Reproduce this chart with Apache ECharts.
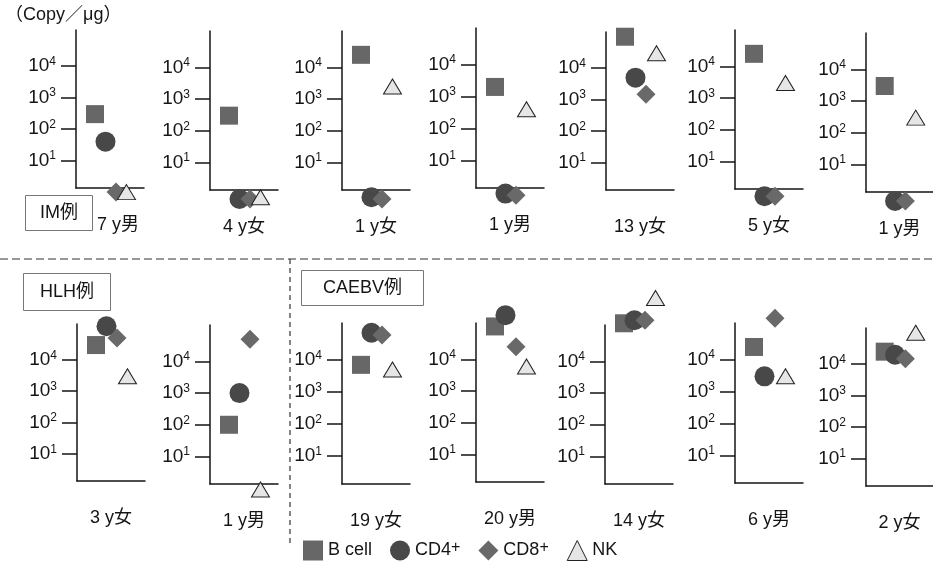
<!DOCTYPE html>
<html>
<head>
<meta charset="utf-8">
<script src="https://cdn.jsdelivr.net/npm/echarts@6/dist/echarts.min.js"></script>
<style>
html,body{margin:0;padding:0;background:#fff;}
#chart{width:933px;height:566px;}
</style>
</head>
<body>
<div id="chart"></div>
<script>
// ---- data (copies / µg) ----
const cases = ['7 y男','4 y女','1 y女','1 y男','13 y女','5 y女','1 y男',
               '3 y女','1 y男','19 y女','20 y男','14 y女','6 y男','2 y女'];
const cellTypes = ['B cell','CD4+','CD8+','NK'];
const bCell = [300, 300, 25000, 2000, 100000, 25000, 3000, 30000, 100, 7000, 110000, 160000, 25000, 25000];
const cd4   = [40, 0.7, 0.8, 0.9, 5000, 0.8, 0.7, 120000, 1000, 70000, 250000, 200000, 3000, 20000];
const cd8   = [1, 0.7, 0.7, 0.8, 1500, 0.8, 0.7, 50000, 50000, 60000, 25000, 200000, 200000, 15000];
const nk    = [1, 0.8, 2500, 400, 30000, 3000, 300, 3000, 0.9, 5000, 6000, 1000000, 3000, 100000];
const tickExponents = [1, 2, 3, 4];
const groupLabels = ['IM例', 'HLH例', 'CAEBV例'];
const unitLabel = '（Copy／μg）';

// ---- layout ----
const gridLeft   = [76, 210, 342, 476, 606, 735, 866, 77, 210, 342, 476, 605, 735, 866];
const gridTop    = [30, 31, 31, 28, 32, 30, 33, 324, 325, 323, 323, 325, 323, 328];
const gridBottom = [188, 190, 190, 188, 190, 189, 192, 481, 484, 484, 482, 484, 483, 486];
const yMin = 0.13, yMax = 5.15;
const FONT = '"Liberation Sans", "Noto Sans CJK JP", sans-serif';
const INK = '#151515';

const values = [bCell, cd4, cd8, nk];
const styles = [
  {symbol: 'rect',     size: 18,       itemStyle: {color: '#676767', opacity: 1}},
  {symbol: 'circle',   size: 20,       itemStyle: {color: '#484848', opacity: 1}},
  {symbol: 'diamond',  size: [19, 19], itemStyle: {color: '#696969', opacity: 1}},
  {symbol: 'triangle', size: [18, 15], itemStyle: {color: '#e6e6e6', borderColor: '#222', borderWidth: 1, opacity: 1}}
];

const grids = [], xAxes = [], yAxes = [], series = [];
cases.forEach((label, p) => {
  grids.push({left: gridLeft[p], top: gridTop[p], width: 68, height: gridBottom[p] - gridTop[p]});
  xAxes.push({
    gridIndex: p, type: 'value', min: -1.81, max: 4.67,
    axisLine: {onZero: false, lineStyle: {color: INK, width: 1.5}},
    axisTick: {show: false}, axisLabel: {show: false}, splitLine: {show: false},
    name: label, nameLocation: 'middle', nameGap: 28,
    nameTextStyle: {fontFamily: FONT, fontSize: 18, color: INK,
                    padding: p === 0 ? [0, 0, 0, 16] : 0}
  });
  yAxes.push({
    gridIndex: p, type: 'value', min: yMin, max: yMax,
    axisLine: {show: true, onZero: false, lineStyle: {color: INK, width: 1.5}},
    axisTick: {show: true, customValues: tickExponents, length: 15, lineStyle: {color: INK, width: 1.5}},
    axisLabel: {
      customValues: tickExponents, margin: 20,
      formatter: v => '{b|10}{s|' + Math.round(v) + '}',
      rich: {
        b: {fontFamily: FONT, fontSize: 19, color: INK, lineHeight: 21},
        s: {fontFamily: FONT, fontSize: 12, color: INK, verticalAlign: 'top', lineHeight: 12}
      }
    },
    splitLine: {show: false}
  });
  values.forEach((arr, t) => {
    series.push({
      type: 'scatter', name: cellTypes[t], xAxisIndex: p, yAxisIndex: p,
      symbol: styles[t].symbol, symbolSize: styles[t].size,
      itemStyle: styles[t].itemStyle, clip: false, silent: true, z: 2 + t,
      data: [[t, Math.log10(arr[p])]]
    });
  });
});

const boxStyle = (text, left, top, pad) => ({
  text: text, left: left, top: top, padding: pad,
  borderWidth: 1, borderColor: '#777',
  textStyle: {fontFamily: FONT, fontSize: 18, fontWeight: 'normal', color: INK}
});

const option = {
  backgroundColor: '#fff',
  animation: false,
  title: [
    {text: unitLabel, left: 5, top: 6, padding: 0,
     textStyle: {fontFamily: FONT, fontSize: 18, fontWeight: 'normal', color: INK}},
    boxStyle(groupLabels[0], 25, 195, [9, 15]),
    boxStyle(groupLabels[1], 23, 273, [10, 17]),
    boxStyle(groupLabels[2], 301, 270, [9, 22])
  ],
  legend: {
    left: 303, top: 540, padding: 0, itemGap: 18, itemWidth: 20, itemHeight: 20,
    data: [
      {name: cellTypes[0], icon: 'rect'},
      {name: cellTypes[1], icon: 'circle'},
      {name: cellTypes[2], icon: 'diamond'},
      {name: cellTypes[3], icon: 'triangle', itemStyle: {borderWidth: 1}}
    ],
    formatter: name => name.endsWith('+') ? '{t|' + name.slice(0, -1) + '}{s|+}' : '{t|' + name + '}',
    textStyle: {
      fontFamily: FONT, fontSize: 18, color: INK,
      rich: {
        t: {fontFamily: FONT, fontSize: 18, color: INK, lineHeight: 21},
        s: {fontFamily: FONT, fontSize: 16, color: INK, verticalAlign: 'top', lineHeight: 12}
      }
    }
  },
  graphic: [
    {type: 'line', shape: {x1: 0, y1: 259, x2: 933, y2: 259}, style: {stroke: '#333', lineWidth: 1.2, lineDash: [8, 4]}},
    {type: 'line', shape: {x1: 290, y1: 259, x2: 290, y2: 543}, style: {stroke: '#333', lineWidth: 1.2, lineDash: [5, 4]}}
  ],
  grid: grids, xAxis: xAxes, yAxis: yAxes, series: series
};

echarts.init(document.getElementById('chart'), null, {renderer: 'canvas'}).setOption(option);
</script>
</body>
</html>
